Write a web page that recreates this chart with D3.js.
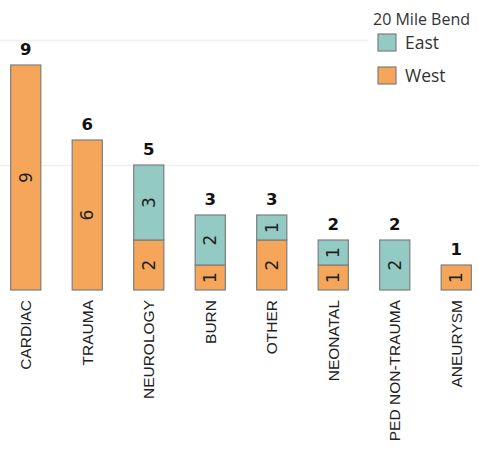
<!DOCTYPE html>
<html>
<head>
<meta charset="utf-8">
<script src="https://cdn.jsdelivr.net/npm/d3@7"></script>
<style>
  html, body { margin: 0; padding: 0; background: #fff; }
  svg { display: block; }
</style>
</head>
<body>
<svg id="chart" width="479" height="449"></svg>
<script>
// Transfers by category, split by side of 20 Mile Bend
const categories = ["CARDIAC", "TRAUMA", "NEUROLOGY", "BURN", "OTHER", "NEONATAL", "PED NON-TRAUMA", "ANEURYSM"];
const westValues = [9, 6, 2, 1, 2, 1, 0, 1];
const eastValues = [0, 0, 3, 2, 1, 1, 2, 0];
const seriesNames = ["East", "West"];
const seriesColors = ["#93cac3", "#f5a65a"];
const gridValues = [5, 10];
const legendTitle = "20 Mile Bend";

const svg = d3.select("#chart");
const W = 479, H = 449;

const x = d3.scaleBand().domain(categories).range([-5, 487]).paddingInner(0.51).paddingOuter(0.255);
const y = d3.scaleLinear().domain([0, 10]).range([290, 40]);
const color = d3.scaleOrdinal().domain(seriesNames).range(seriesColors);

// light horizontal gridlines
svg.append("g").selectAll("line").data(gridValues).join("line")
  .attr("x1", 0).attr("x2", W)
  .attr("y1", d => y(d) + 0.5).attr("y2", d => y(d) + 0.5)
  .attr("stroke", "#f0f0f0").attr("stroke-width", 1.5);

// stack West on the bottom, East on top
const rows = categories.map((c, i) => ({ cat: c, West: westValues[i], East: eastValues[i] }));
const stack = d3.stack().keys(["West", "East"]);
const layers = stack(rows);

const segs = [];
layers.forEach(layer => {
  layer.forEach(d => {
    const v = d[1] - d[0];
    if (v > 0) segs.push({ key: layer.key, cat: d.data.cat, y0: d[0], y1: d[1], v });
  });
});

const bars = svg.append("g");
bars.selectAll("rect").data(segs).join("rect")
  .attr("x", d => x(d.cat))
  .attr("width", x.bandwidth())
  .attr("y", d => y(d.y1))
  .attr("height", d => y(d.y0) - y(d.y1))
  .attr("fill", d => color(d.key))
  .attr("stroke", "#7d7d7d")
  .attr("stroke-width", 1.2);

// value inside each segment, rotated
bars.selectAll("text").data(segs).join("text")
  .attr("transform", d => `translate(${x(d.cat) + x.bandwidth() / 2},${y((d.y0 + d.y1) / 2)}) rotate(-90)`)
  .attr("text-anchor", "middle")
  .attr("dy", "0.36em")
  .attr("font-family", "DejaVu Sans, sans-serif")
  .attr("font-size", 17)
  .attr("fill", "#222")
  .text(d => d.v);

// totals above bars
const totals = rows.map(r => ({ cat: r.cat, t: r.West + r.East }));
svg.append("g").selectAll("text").data(totals).join("text")
  .attr("x", d => x(d.cat) + x.bandwidth() / 2)
  .attr("y", d => y(d.t) - 10)
  .attr("text-anchor", "middle")
  .attr("font-family", "DejaVu Sans, sans-serif")
  .attr("font-weight", "bold")
  .attr("font-size", 16.5)
  .attr("fill", "#111")
  .text(d => d.t);

// category axis with rotated labels
const xAxis = svg.append("g").attr("transform", `translate(0,${y(0)})`)
  .call(d3.axisBottom(x).tickSize(0).tickPadding(0));
xAxis.select(".domain").remove();
xAxis.selectAll("text")
  .attr("transform", "translate(0,10) rotate(-90)")
  .attr("text-anchor", "end")
  .attr("dy", "0.35em")
  .attr("x", 0).attr("y", 0)
  .attr("font-family", "Liberation Sans, Arial, sans-serif")
  .attr("font-size", 15.5)
  .attr("fill", "#222");

// legend
const lg = svg.append("g");
lg.append("rect").attr("x", 368).attr("y", 0).attr("width", 111).attr("height", 90).attr("fill", "#fff");
lg.append("text").attr("x", 373).attr("y", 25)
  .attr("font-family", "Open Sans, sans-serif").attr("font-size", 16).attr("fill", "#333")
  .text(legendTitle);
const items = lg.selectAll("g.item").data(seriesNames).join("g")
  .attr("class", "item")
  .attr("transform", (d, i) => `translate(378,${34 + i * 33})`);
items.append("rect").attr("width", 18).attr("height", 17)
  .attr("fill", d => color(d)).attr("stroke", "#7d7d7d").attr("stroke-width", 1.2);
items.append("text").attr("x", 27).attr("y", 15)
  .attr("font-family", "Open Sans, sans-serif").attr("font-size", 17.5).attr("fill", "#333")
  .text(d => d);
</script>
</body>
</html>
